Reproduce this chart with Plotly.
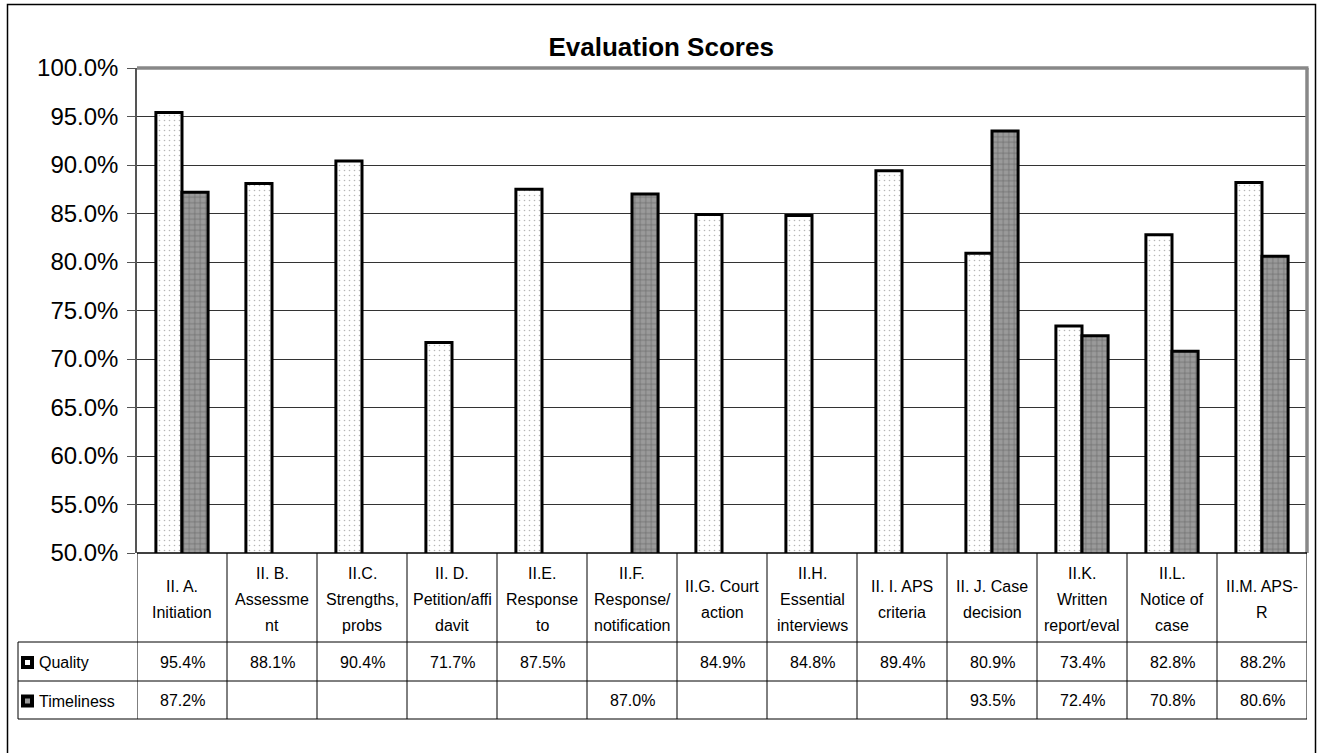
import plotly.graph_objects as go

# ---- data ----
categories = [
    "II. A. Initiation", "II. B. Assessment", "II.C. Strengths, probs",
    "II. D. Petition/affidavit", "II.E. Response to", "II.F. Response/notification",
    "II.G. Court action", "II.H. Essential interviews", "II. I. APS criteria",
    "II. J. Case decision", "II.K. Written report/eval", "II.L. Notice of case",
    "II.M. APS-R",
]
tick_labels = [
    "II. A.<br>Initiation", "II. B.<br>Assessme<br>nt", "II.C.<br>Strengths,<br>probs",
    "II. D.<br>Petition/affi<br>davit", "II.E.<br>Response<br>to", "II.F.<br>Response/<br>notification",
    "II.G. Court<br>action", "II.H.<br>Essential<br>interviews", "II. I. APS<br>criteria",
    "II. J. Case<br>decision", "II.K.<br>Written<br>report/eval", "II.L.<br>Notice of<br>case",
    "II.M. APS-<br>R",
]
quality = [95.4, 88.1, 90.4, 71.7, 87.5, None, 84.9, 84.8, 89.4, 80.9, 73.4, 82.8, 88.2]
timeliness = [87.2, None, None, None, None, 87.0, None, None, None, 93.5, 72.4, 70.8, 80.6]
y_ticks = [50, 55, 60, 65, 70, 75, 80, 85, 90, 95, 100]

FONT = "Liberation Sans, Arial, sans-serif"
W, H = 1317, 753
L, R, T, B = 137, 1307, 68, 553  # plot area in pixels


def px(x):
    return (x - L) / (R - L)


def py(y):
    return (B - y) / (B - T)


fig = go.Figure()

fig.add_trace(go.Bar(
    name="Quality", x=categories, y=quality,
    marker=dict(
        color="white",
        line=dict(color="black", width=3),
        pattern=dict(shape=".", size=5, solidity=0.08, fgcolor="#6e6e6e", bgcolor="white"),
    ),
    hovertemplate="%{x}<br>Quality: %{y:.1f}%<extra></extra>",
))
fig.add_trace(go.Bar(
    name="Timeliness", x=categories, y=timeliness,
    marker=dict(
        color="#999999",
        line=dict(color="black", width=3),
        pattern=dict(shape="+", size=5.5, solidity=0.25, fgcolor="#444444", bgcolor="#9a9a9a"),
    ),
    hovertemplate="%{x}<br>Timeliness: %{y:.1f}%<extra></extra>",
))

shapes = []
annotations = []

# outer chart frame
shapes.append(dict(type="rect", xref="paper", yref="paper",
                   x0=px(7.5), x1=px(1315.5), y0=py(765), y1=py(4.5),
                   line=dict(color="black", width=1.5), layer="below"))

# plot-area border (grey, top and right)
shapes.append(dict(type="line", xref="paper", yref="paper",
                   x0=px(137), x1=px(1308.5), y0=1, y1=1,
                   line=dict(color="#888888", width=3.5)))
shapes.append(dict(type="line", xref="paper", yref="paper",
                   x0=px(1307), x1=px(1307), y0=0, y1=1,
                   line=dict(color="#888888", width=3.5)))

# data table grid
row_edges = [642, 681, 719]
for ry in row_edges:
    shapes.append(dict(type="line", xref="paper", yref="paper",
                       x0=px(18), x1=px(1307), y0=py(ry), y1=py(ry),
                       line=dict(color="black", width=1)))
shapes.append(dict(type="line", xref="paper", yref="paper",
                   x0=0, x1=1, y0=0, y1=0, line=dict(color="black", width=1.5)))
for i in range(len(categories) + 1):
    shapes.append(dict(type="line", xref="x", yref="paper",
                       x0=i - 0.5, x1=i - 0.5, y0=py(553), y1=py(719),
                       line=dict(color="black", width=1)))
shapes.append(dict(type="line", xref="paper", yref="paper",
                   x0=px(18), x1=px(18), y0=py(642), y1=py(719),
                   line=dict(color="black", width=1)))

# legend keys inside the table
key_fill = {"Quality": "white", "Timeliness": "#9a9a9a"}
key_rows = {"Quality": 661.5, "Timeliness": 700}
for name, cy in key_rows.items():
    shapes.append(dict(type="rect", xref="paper", yref="paper",
                       x0=px(21), x1=px(34), y0=py(cy + 7.5), y1=py(cy - 5.5),
                       fillcolor="black", line=dict(width=0)))
    shapes.append(dict(type="rect", xref="paper", yref="paper",
                       x0=px(25), x1=px(30), y0=py(cy + 3.5), y1=py(cy - 1.5),
                       fillcolor=key_fill[name], line=dict(width=0)))
    annotations.append(dict(xref="paper", yref="paper", x=px(37), y=py(cy + 1),
                            text=name, showarrow=False, xanchor="left", yanchor="middle",
                            font=dict(family=FONT, size=16, color="black")))

# category header row, one annotation per text line
header_mid = 599
line_step = 26
for cat, lab in zip(categories, tick_labels):
    lines = lab.split("<br>")
    n = len(lines)
    for k, ln in enumerate(lines):
        annotations.append(dict(xref="x", yref="paper", x=cat, y=py(header_mid),
                                yshift=-(k - (n - 1) / 2) * line_step,
                                text=ln, showarrow=False, xanchor="center", yanchor="middle",
                                font=dict(family=FONT, size=16, color="black")))

# value rows
for series, cy in ((quality, 662), (timeliness, 700.5)):
    for cat, v in zip(categories, series):
        if v is None:
            continue
        annotations.append(dict(xref="x", yref="paper", x=cat, y=py(cy),
                                text=f"{v:.1f}%", showarrow=False,
                                xanchor="center", yanchor="middle",
                                font=dict(family=FONT, size=16, color="black")))

fig.update_layout(
    width=W, height=H, autosize=False,
    margin=dict(l=L, r=W - R, t=T, b=H - B, pad=0),
    paper_bgcolor="white", plot_bgcolor="white",
    barmode="group", bargap=0.42, bargroupgap=0,
    showlegend=False,
    title=dict(text="<b>Evaluation Scores</b>", xref="container", yref="container",
               x=0.502, y=1 - 47 / H, xanchor="center", yanchor="middle",
               font=dict(family=FONT, size=26, color="black")),
    font=dict(family=FONT, color="black"),
    shapes=shapes,
    annotations=annotations,
)
fig.update_xaxes(type="category", categoryorder="array", categoryarray=categories,
                 range=[-0.5, len(categories) - 0.5], showticklabels=False,
                 showgrid=False, zeroline=False, showline=False, ticks="")
fig.update_yaxes(range=[50, 100], tickvals=y_ticks,
                 ticktext=[f"{t:.1f}%" for t in y_ticks],
                 showgrid=True, gridcolor="#333333", gridwidth=1,
                 zeroline=False, showline=True, linecolor="#555555", linewidth=1.5,
                 ticks="outside", ticklen=8, tickcolor="#555555", ticklabelstandoff=4,
                 tickfont=dict(family=FONT, size=24, color="black"))

fig.write_html("out.html")
